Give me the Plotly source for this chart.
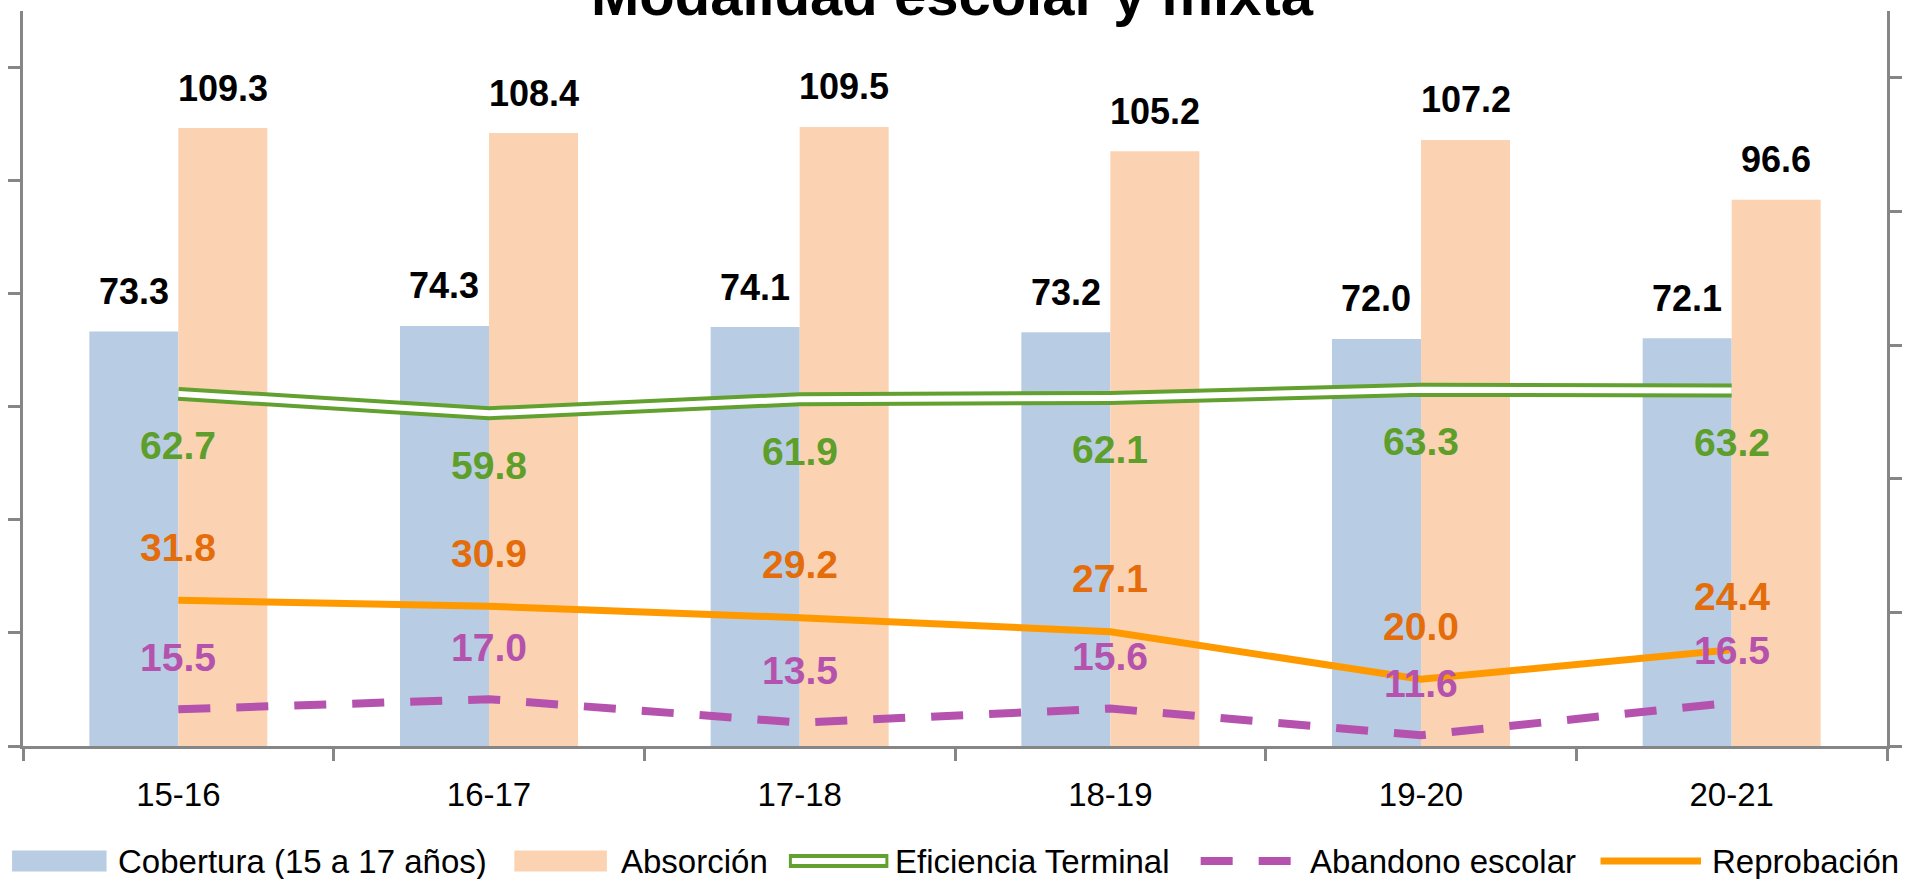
import plotly.graph_objects as go

# ---------------- data ----------------
categories = ["15-16", "16-17", "17-18", "18-19", "19-20", "20-21"]
cobertura = [73.3, 74.3, 74.1, 73.2, 72.0, 72.1]
absorcion = [109.3, 108.4, 109.5, 105.2, 107.2, 96.6]
eficiencia = [62.7, 59.8, 61.9, 62.1, 63.3, 63.2]
abandono = [15.5, 17.0, 13.5, 15.6, 11.6, 16.5]
reprobacion = [31.8, 30.9, 29.2, 27.1, 20.0, 24.4]

title_text = "Modalidad escolar y mixta"
legend_names = ["Cobertura (15 a 17 años)", "Absorción", "Eficiencia Terminal",
                "Abandono escolar", "Reprobación"]

# ---------------- style ----------------
W, H = 1910, 879
ML, MR, MT, MB = 22, 14, 11, 133
PW = W - ML - MR
PH = H - MT - MB
FONT = "Liberation Sans"
AX = "#868686"
BLUE = "#B8CCE4"
ORANGE_BAR = "#FBD3B2"
GREEN = "#62A130"
GREEN_T = "#5E9E2B"
ORANGE_L = "#FF9900"
ORANGE_T = "#E46C0A"
PURPLE = "#B452AE"
BARGAP = 0.427
Y1 = [0, 130]
Y2 = [10, 120]

bar_px = PW / len(categories) * (1 - BARGAP) / 2


def px_x(p):
    return (p - ML) / PW


def px_y(p):
    return (MT + PH - p) / PH


fig = go.Figure()
fig.add_trace(go.Bar(x=categories, y=cobertura, name=legend_names[0],
                     marker=dict(color=BLUE, line=dict(width=0)), yaxis="y", showlegend=False))
fig.add_trace(go.Bar(x=categories, y=absorcion, name=legend_names[1],
                     marker=dict(color=ORANGE_BAR, line=dict(width=0)), yaxis="y", showlegend=False))
# double line (Eficiencia Terminal)
fig.add_trace(go.Scatter(x=categories, y=eficiencia, name=legend_names[2], mode="lines",
                         line=dict(color=GREEN, width=14), yaxis="y2", showlegend=False))
fig.add_trace(go.Scatter(x=categories, y=eficiencia, mode="lines", hoverinfo="skip",
                         line=dict(color="white", width=6), yaxis="y2", showlegend=False))
fig.add_trace(go.Scatter(x=categories, y=reprobacion, name=legend_names[4], mode="lines",
                         line=dict(color=ORANGE_L, width=7), yaxis="y2", showlegend=False))
fig.add_trace(go.Scatter(x=categories, y=abandono, name=legend_names[3], mode="lines",
                         line=dict(color=PURPLE, width=8, dash="32px,26px"), yaxis="y2",
                         showlegend=False))

ann = []
for c, v in zip(categories, cobertura):
    ann.append(dict(x=c, y=v, xref="x", yref="y", text=f"<b>{v:.1f}</b>", showarrow=False,
                    xshift=-bar_px / 2, yshift=40, yanchor="middle",
                    font=dict(family=FONT, size=36, color="black")))
for c, v in zip(categories, absorcion):
    ann.append(dict(x=c, y=v, xref="x", yref="y", text=f"<b>{v:.1f}</b>", showarrow=False,
                    xshift=bar_px / 2, yshift=40, yanchor="middle",
                    font=dict(family=FONT, size=36, color="black")))
for c, v in zip(categories, eficiencia):
    ann.append(dict(x=c, y=v, xref="x", yref="y2", text=f"<b>{v:.1f}</b>", showarrow=False,
                    yshift=-52, yanchor="middle",
                    font=dict(family=FONT, size=39, color=GREEN_T)))
for c, v in zip(categories, reprobacion):
    ann.append(dict(x=c, y=v, xref="x", yref="y2", text=f"<b>{v:.1f}</b>", showarrow=False,
                    yshift=53, yanchor="middle",
                    font=dict(family=FONT, size=39, color=ORANGE_T)))
for c, v in zip(categories, abandono):
    ann.append(dict(x=c, y=v, xref="x", yref="y2", text=f"<b>{v:.1f}</b>", showarrow=False,
                    yshift=52, yanchor="middle",
                    font=dict(family=FONT, size=39, color=PURPLE)))

# title (cut off at top, as in the reference)
ann.append(dict(x=px_x(956), y=px_y(29), xref="paper", yref="paper", text=f"<b>{title_text}</b>",
                showarrow=False, xanchor="center", yanchor="bottom",
                font=dict(family=FONT, size=58, color="black")))

# ---------------- custom legend ----------------
LY = 861
shapes = []
leg_items = [
    ("rect", BLUE, 11, 106, 116),
    ("rect", ORANGE_BAR, 516, 609, 621),
    ("double", GREEN, 792, 892, 897),
    ("dash", PURPLE, 1206, 1297, 1314),
    ("line", ORANGE_L, 1608, 1709, 1718),
]
for (kind, col, x0, x1, tx), name in zip(leg_items, legend_names):
    if kind == "rect":
        shapes.append(dict(type="rect", xref="paper", yref="paper", x0=px_x(x0), x1=px_x(x1),
                           y0=px_y(LY - 10.5), y1=px_y(LY + 10.5), fillcolor=col,
                           line=dict(width=0)))
    elif kind == "double":
        shapes.append(dict(type="line", xref="paper", yref="paper", x0=px_x(x0), x1=px_x(x1),
                           y0=px_y(LY), y1=px_y(LY), line=dict(color=col, width=14)))
        shapes.append(dict(type="line", xref="paper", yref="paper", x0=px_x(x0 + 3), x1=px_x(x1 - 3),
                           y0=px_y(LY), y1=px_y(LY), line=dict(color="white", width=6)))
    elif kind == "dash":
        shapes.append(dict(type="line", xref="paper", yref="paper", x0=px_x(x0), x1=px_x(x1),
                           y0=px_y(LY), y1=px_y(LY),
                           line=dict(color=col, width=8, dash="32px,26px")))
    else:
        shapes.append(dict(type="line", xref="paper", yref="paper", x0=px_x(x0), x1=px_x(x1),
                           y0=px_y(LY), y1=px_y(LY), line=dict(color=col, width=7)))
    ann.append(dict(x=px_x(tx), y=px_y(LY), xref="paper", yref="paper", text=name,
                    showarrow=False, xanchor="left", yanchor="middle",
                    font=dict(family=FONT, size=33, color="black")))

tick_common = dict(ticklen=12, tickwidth=2.5, tickcolor=AX, showgrid=False, zeroline=False)
nb = [i - 0.5 for i in range(len(categories) + 1)]

fig.update_layout(
    width=W, height=H,
    margin=dict(l=ML, r=MR, t=MT, b=MB, pad=0),
    paper_bgcolor="white", plot_bgcolor="white",
    barmode="group", bargap=BARGAP, bargroupgap=0,
    showlegend=False,
    font=dict(family=FONT, size=33, color="black"),
    xaxis=dict(type="category", categoryorder="array", categoryarray=categories,
               range=[-0.5, len(categories) - 0.5],
               showline=True, linecolor=AX, linewidth=3, ticks="outside", tickson="boundaries",
               ticklabelstandoff=17, tickfont=dict(family=FONT, size=33, color="black"),
               **tick_common),
    xaxis2=dict(overlaying="x", anchor="y", range=[-0.5, len(categories) - 0.5],
                tickvals=nb, ticks="inside", showticklabels=False, showline=False,
                **tick_common),
    yaxis=dict(range=Y1, dtick=20, tick0=0, showline=True, linecolor=AX, linewidth=3,
               ticks="outside", showticklabels=False, **tick_common),
    yaxis3=dict(overlaying="y", anchor="x", side="left", range=Y1, dtick=20, tick0=0,
                ticks="inside", showticklabels=False, showline=False, **tick_common),
    yaxis2=dict(overlaying="y", anchor="x", side="right", range=Y2, dtick=20, tick0=10,
                showline=True, linecolor=AX, linewidth=3, ticks="outside",
                showticklabels=False, **tick_common),
    yaxis4=dict(overlaying="y", anchor="x", side="right", range=Y2, dtick=20, tick0=10,
                ticks="inside", showticklabels=False, showline=False, **tick_common),
    annotations=ann,
    shapes=shapes,
)

fig.write_html("out.html", config={"displayModeBar": False},
               post_script="document.body.style.margin='0';document.body.style.overflow='hidden';")
